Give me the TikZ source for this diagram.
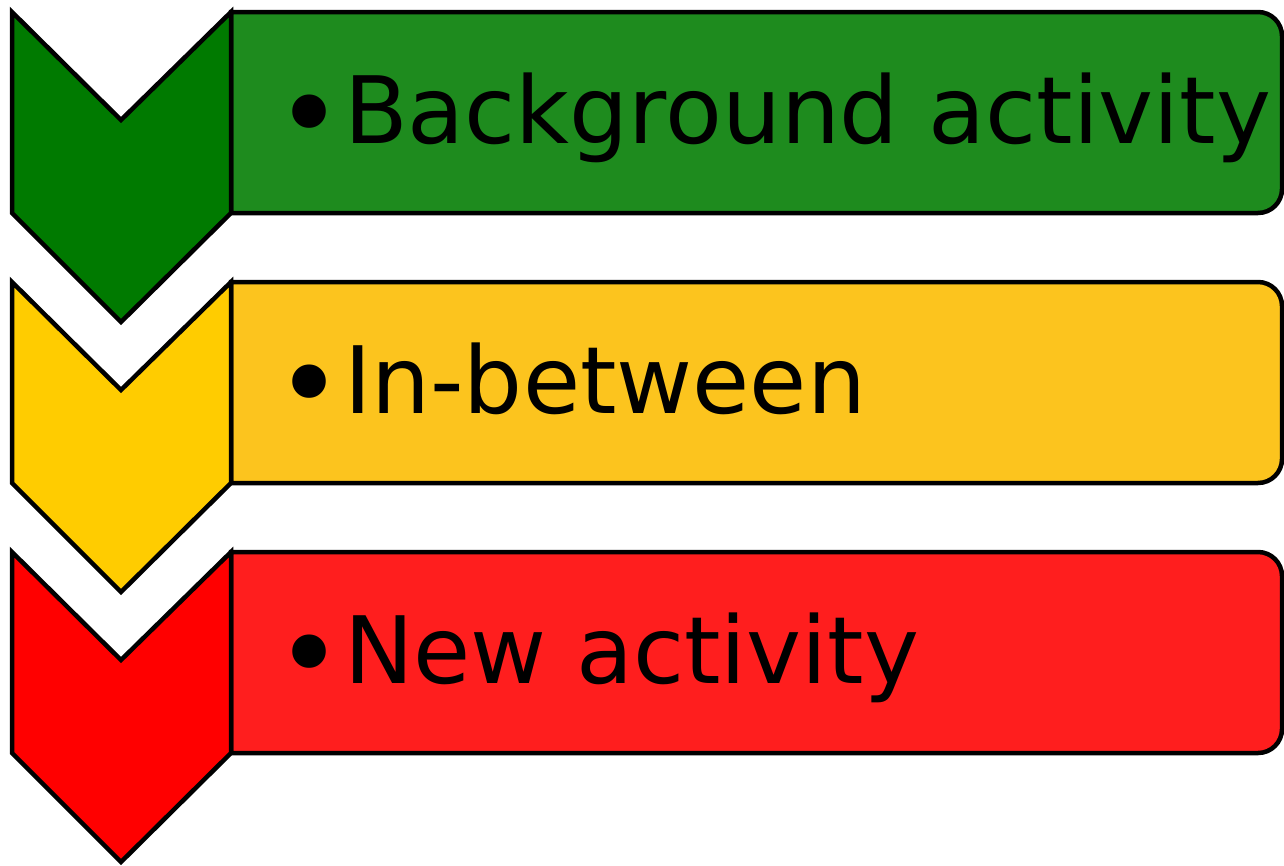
\documentclass[tikz,border=0pt]{standalone}
\usepackage{fontspec}
\setmainfont{DejaVu Sans}
\definecolor{gchev}{RGB}{0,122,0}
\definecolor{grect}{RGB}{30,139,30}
\definecolor{ychev}{RGB}{255,204,0}
\definecolor{yrect}{RGB}{252,196,30}
\definecolor{rchev}{RGB}{255,0,0}
\definecolor{rrect}{RGB}{255,30,30}
\tikzset{
  outline/.style={draw=black, line width=4.5pt, line join=miter},
  label/.style={anchor=base west, inner sep=0pt, outer sep=0pt, font=\fontsize{93}{110}\selectfont, text=black},
}
\newcommand{\bigbullet}{\raisebox{-11pt}{\scalebox{1.24}{•}}\hspace{1pt}}
\newcommand{\rowshape}[3]{%
  % #1 = top y, #2 = chevron colour, #3 = rect colour
  \path[outline, fill=#3] (231,#1) [rounded corners=24pt] -- (1282,#1) -- (1282,#1+201) [sharp corners] -- (231,#1+201) -- cycle;
  \path[outline, fill=#2] (12,#1) -- (121,#1+108) -- (231,#1) -- (231,#1+201) -- (121,#1+310) -- (12,#1+201) -- cycle;
}
\begin{document}
\begin{tikzpicture}[x=1pt, y=-1pt]
\useasboundingbox (0,0) rectangle (1284,865);
\rowshape{12}{gchev}{grect}
\rowshape{282}{ychev}{yrect}
\rowshape{552}{rchev}{rrect}
\node[label] (t1) at (275,143) {\bigbullet Background activity};
\node[label] (t2) at (275,413) {\bigbullet In-between};
\node[label] (t3) at (275,683) {\bigbullet New activity};
\end{tikzpicture}
\end{document}
